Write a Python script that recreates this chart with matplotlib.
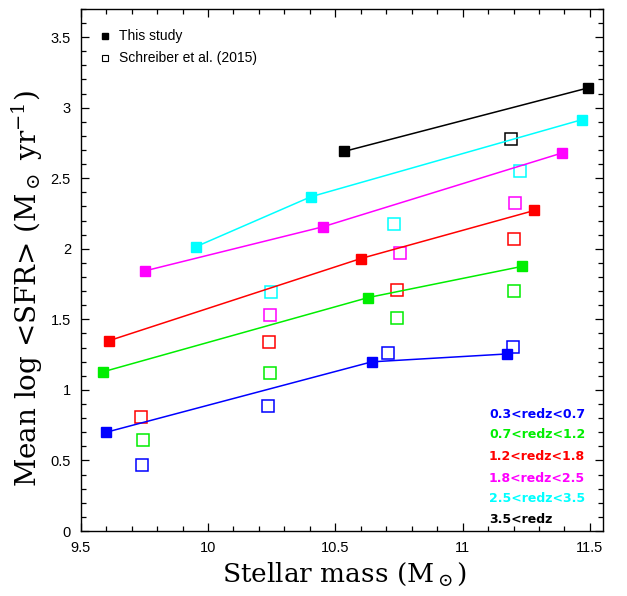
import numpy as np
import matplotlib
matplotlib.use('Agg')
import matplotlib.pyplot as plt

plt.rcParams['font.family'] = ['Liberation Sans', 'DejaVu Sans']
plt.rcParams['mathtext.fontset'] = 'dejavuserif'

# Redshift bins
bins = ['0.3<redz<0.7', '0.7<redz<1.2', '1.2<redz<1.8',
        '1.8<redz<2.5', '2.5<redz<3.5', '3.5<redz']
colors = ['#0000ff', '#00ee00', '#ff0000', '#ff00ff', '#00ffff', '#000000']

# This study (filled squares, joined by lines)
study_mass = [
    [9.60, 10.643, 11.174],
    [9.587, 10.63, 11.232],
    [9.613, 10.60, 11.282],
    [9.753, 10.451, 11.39],
    [9.954, 10.404, 11.468],
    [10.534, 11.492],
]
study_sfr = [
    [0.70, 1.199, 1.255],
    [1.128, 1.655, 1.875],
    [1.35, 1.931, 2.272],
    [1.844, 2.156, 2.679],
    [2.016, 2.369, 2.915],
    [2.69, 3.14],
]

# Schreiber et al. (2015) (open squares)
schr_mass = [
    [9.74, 10.236, 10.705, 11.197],
    [9.743, 10.243, 10.741, 11.20],
    [9.736, 10.241, 10.744, 11.202],
    [10.245, 10.753, 11.206],
    [10.249, 10.731, 11.227],
    [11.19],
]
schr_sfr = [
    [0.47, 0.887, 1.265, 1.303],
    [0.645, 1.12, 1.508, 1.70],
    [0.806, 1.338, 1.709, 2.069],
    [1.532, 1.969, 2.324],
    [1.697, 2.177, 2.553],
    [2.778],
]

fig = plt.figure(figsize=(6.27, 5.96), dpi=100)
ax = fig.add_axes([0.1287, 0.109, 0.8325, 0.876])

for i in range(len(bins)):
    ax.plot(study_mass[i], study_sfr[i], '-', color=colors[i], lw=1.1,
            marker='s', ms=7.8, mec=colors[i], mfc=colors[i], zorder=3)
    ax.plot(schr_mass[i], schr_sfr[i], 's', color=colors[i], ms=8.2,
            mfc='none', mec=colors[i], mew=1.1, zorder=2)

ax.set_xlim(9.5, 11.55)
ax.set_ylim(0, 3.7)
ax.set_xticks([9.5, 10, 10.5, 11, 11.5])
ax.set_xticklabels(['9.5', '10', '10.5', '11', '11.5'])
ax.set_yticks([0, 0.5, 1, 1.5, 2, 2.5, 3, 3.5])
ax.set_yticklabels(['0', '0.5', '1', '1.5', '2', '2.5', '3', '3.5'])
ax.set_xticks(np.arange(9.5, 11.56, 0.1), minor=True)
ax.set_yticks(np.arange(0, 3.71, 0.1), minor=True)
ax.tick_params(which='both', direction='in', top=True, right=True,
               labelsize=10.5, width=0.9)
ax.tick_params(which='major', length=6)
ax.tick_params(axis='x', which='major', pad=7)
ax.tick_params(axis='y', which='major', pad=7)
ax.tick_params(which='minor', length=3.5)
for s in ax.spines.values():
    s.set_linewidth(1.0)

ax.set_xlabel(r'Stellar mass (M$_\odot$)', family='DejaVu Serif',
              fontsize=19, va='top')
ax.xaxis.set_label_coords(0.506, -0.057)
ax.set_ylabel(r'Mean log <SFR> (M$_\odot$ yr$^{-1}$)', family='DejaVu Serif',
              fontsize=20)
ax.yaxis.set_label_coords(-0.068, 0.465)

# symbol legend
ax.plot([0.0466], [0.948], 's', color='black', ms=4, transform=ax.transAxes)
ax.plot([0.0466], [0.906], 's', mfc='none', mec='black', mew=0.8, ms=4,
        transform=ax.transAxes)
ax.text(0.073, 0.948, 'This study', transform=ax.transAxes, fontsize=10,
        va='center')
ax.text(0.073, 0.906, 'Schreiber et al. (2015)', transform=ax.transAxes,
        fontsize=10, va='center')

# redshift bin labels
label_y = [0.224, 0.1845, 0.1437, 0.1015, 0.063, 0.023]
for lab, col, yy in zip(bins, colors, label_y):
    ax.text(0.782, yy, lab, color=col, transform=ax.transAxes, fontsize=9,
            fontweight='bold', family='DejaVu Sans', va='center')

fig.savefig('out.png', dpi=100)
